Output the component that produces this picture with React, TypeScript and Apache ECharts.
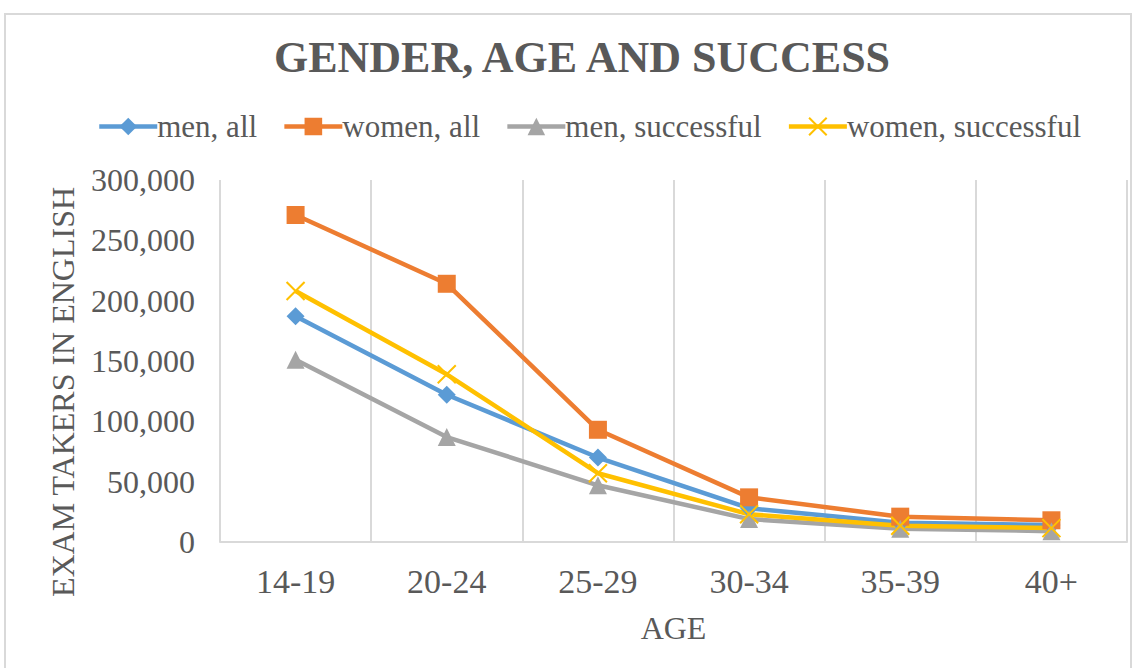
import React, { useEffect, useRef } from "react";
import * as echarts from "echarts";

const ageGroups = ["14-19", "20-24", "25-29", "30-34", "35-39", "40+"];
const menAll = [187000, 122000, 70000, 28000, 16000, 14000];
const womenAll = [271000, 214000, 93000, 37000, 21000, 18000];
const menSuccessful = [151000, 87000, 47000, 19000, 11000, 9000];
const womenSuccessful = [208000, 139000, 57000, 23000, 13500, 11500];

const FONT = "'Liberation Serif', 'Times New Roman', serif";
const TEXT = "#595959";
const GRID = "#d9d9d9";

export default function App() {
  const ref = useRef<HTMLDivElement>(null);

  useEffect(() => {
    if (!ref.current) return;
    const chart = echarts.init(ref.current, undefined, { renderer: "svg" });

    const mkSeries = (name: string, data: number[], color: string, symbol: string, size: number, extra: any = {}) => ({
      name,
      type: "line",
      data,
      symbol,
      symbolSize: size,
      lineStyle: { color, width: 4.5 },
      itemStyle: { color, borderColor: color, borderWidth: 0, ...extra },
      emphasis: { disabled: true },
    });

    chart.setOption({
      animation: false,
      textStyle: { fontFamily: FONT },
      title: {
        text: "GENDER, AGE AND SUCCESS",
        left: 577,
        top: 30,
        textAlign: "center",
        textStyle: { fontFamily: FONT, fontSize: 44, fontWeight: "bold", color: TEXT },
      },
      legend: {
        left: 92,
        top: 106,
        itemWidth: 58,
        itemHeight: 22,
        itemGap: 25,
        lineStyle: { width: 4.5 },
        textStyle: { fontFamily: FONT, fontSize: 31, color: TEXT, padding: [0, 0, 0, -5] },
        data: ["men, all", "women, all", "men, successful", "women, successful"],
      },
      graphic: [
        {
          type: "rect",
          shape: { x: 5, y: 14, width: 1126, height: 700 },
          style: { fill: "none", stroke: GRID, lineWidth: 2 },
          silent: true,
        },
        {
          type: "text",
          x: 63,
          y: 392,
          rotation: Math.PI / 2,
          style: {
            text: "EXAM TAKERS IN ENGLISH",
            fontFamily: FONT,
            fontSize: 32,
            fill: TEXT,
            align: "center",
            verticalAlign: "middle",
          },
        },
      ],
      grid: { left: 220, right: 11, top: 180, bottom: 126 },
      xAxis: {
        type: "category",
        data: ageGroups,
        boundaryGap: true,
        name: "AGE",
        nameLocation: "middle",
        nameGap: 70,
        nameTextStyle: { fontFamily: FONT, fontSize: 32, color: TEXT },
        axisLine: { lineStyle: { color: GRID, width: 2 } },
        axisTick: { show: false },
        splitLine: { show: true, lineStyle: { color: GRID, width: 2 } },
        axisLabel: { fontFamily: FONT, fontSize: 34, color: TEXT, margin: 22 },
      },
      yAxis: {
        type: "value",
        min: 0,
        max: 300000,
        interval: 50000,
        axisLine: { show: false },
        axisTick: { show: false },
        splitLine: { show: false },
        axisLabel: {
          fontFamily: FONT,
          fontSize: 32,
          color: TEXT,
          margin: 25,
          formatter: (v: number) => v.toLocaleString("en-US"),
        },
      },
      series: [
        mkSeries("men, all", menAll, "#5b9bd5", "diamond", 18),
        mkSeries("women, all", womenAll, "#ed7d31", "rect", 18),
        mkSeries("men, successful", menSuccessful, "#a5a5a5", "triangle", 18),
        mkSeries("women, successful", womenSuccessful, "#ffc000", "path://M0,0L10,10M10,0L0,10", 18, {
          borderWidth: 2,
          color: "rgba(0,0,0,0)",
        }),
      ],
    });

    return () => chart.dispose();
  }, []);

  return (
    <div
      ref={ref}
      style={{ position: "absolute", left: 0, top: 0, width: 1138, height: 668, background: "#fff" }}
    />
  );
}
